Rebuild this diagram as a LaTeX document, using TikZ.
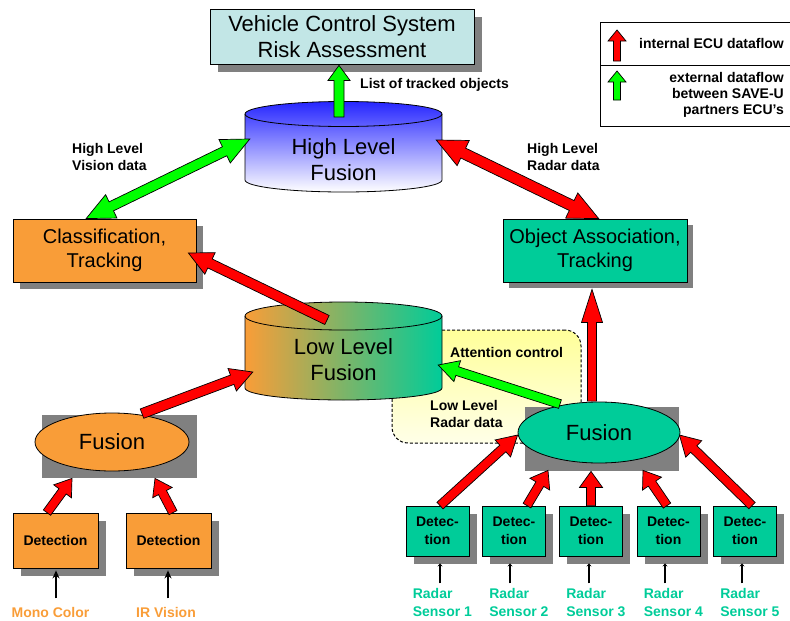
\documentclass[tikz,border=0pt]{standalone}
\usepackage{fontspec}
\setmainfont{Liberation Sans}
\usetikzlibrary{calc,shapes.geometric,arrows.meta}

\definecolor{vorange}{HTML}{F99D38}
\definecolor{vteal}{HTML}{00CC99}
\definecolor{vcyan}{HTML}{C2E6E6}
\definecolor{vred}{HTML}{FF0000}
\definecolor{vgreen}{HTML}{00FF00}
\definecolor{vgrey}{RGB}{128,128,128}
\definecolor{vyellowA}{HTML}{FFFF99}
\definecolor{vyellowB}{HTML}{FFFFE8}
\definecolor{vblue}{HTML}{2626FF}

\pgfdeclarelayer{back}
\pgfdeclarelayer{shadelayer}
\pgfsetlayers{back,shadelayer,main}

% broad block arrow: style, from, to, body half-width, head half-width, head length
\newcommand\fatarrow[6]{%
  \path (#2) coordinate (fas) (#3) coordinate (fae);
  \path ($(fae)!#6pt!(fas)$) coordinate (fah);
  \filldraw[#1] ($(fas)!#4pt!90:(fae)$) -- ($(fah)!#4pt!90:(fae)$)
    -- ($(fah)!#5pt!90:(fae)$) -- (fae) -- ($(fah)!#5pt!-90:(fae)$)
    -- ($(fah)!#4pt!-90:(fae)$) -- ($(fas)!#4pt!-90:(fae)$) -- cycle;
}
% same with a head at both ends
\newcommand\fatdarrow[6]{%
  \path (#2) coordinate (fas) (#3) coordinate (fae);
  \path ($(fae)!#6pt!(fas)$) coordinate (fah) ($(fas)!#6pt!(fae)$) coordinate (fag);
  \filldraw[#1] (fas) -- ($(fag)!#5pt!90:(fae)$) -- ($(fag)!#4pt!90:(fae)$)
    -- ($(fah)!#4pt!90:(fae)$) -- ($(fah)!#5pt!90:(fae)$) -- (fae)
    -- ($(fah)!#5pt!-90:(fae)$) -- ($(fah)!#4pt!-90:(fae)$)
    -- ($(fag)!#4pt!-90:(fae)$) -- ($(fag)!#5pt!-90:(fae)$) -- cycle;
}

\tikzset{
  box/.style={draw=black, line width=0.8pt, shape=rectangle, inner sep=0pt, align=center},
  shadebox/.style={shape=rectangle, fill=vgrey, draw=none, inner sep=0pt},
  bigtext/.style={font=\fontsize{22}{26}\selectfont},
  midtext/.style={font=\fontsize{20}{24}\selectfont},
  lbl/.style={font=\fontsize{14}{17}\selectfont\bfseries, inner sep=0pt},
  detbox/.style={box, fill=vteal, minimum width=63pt, minimum height=50pt,
    font=\fontsize{14}{18}\selectfont\bfseries},
  leftdet/.style={box, fill=vorange, minimum width=85pt, minimum height=55pt,
    font=\fontsize{14}{17}\selectfont\bfseries},
  fusion/.style={ellipse, draw=black, line width=0.8pt, inner sep=0pt, bigtext},
  redarrow/.style={fill=vred, draw=black, line width=0.7pt, line join=miter},
  greenarrow/.style={fill=vgreen, draw=black, line width=0.7pt, line join=miter},
  sensorlbl/.style={lbl, text=vteal, align=left, font=\fontsize{14}{18}\selectfont\bfseries},
  camlbl/.style={lbl, text=vorange},
  inlet/.style={line width=1.5pt, -{Stealth[length=8pt,width=7pt]}},
  radarlet/.style={line width=1.5pt, -{Stealth[length=3pt,width=5pt]}},
  cylline/.style={draw=black, line width=0.8pt},
}

\begin{document}
\begin{tikzpicture}[x=1pt, y=-1pt]
\useasboundingbox (0,0) rectangle (790,621);

% ---------- shaded region behind the low level fusion ----------
\begin{pgfonlayer}{back}
\node[draw=black, line width=1pt, dash pattern=on 3pt off 2pt, rounded corners=16pt,
      top color=vyellowA, bottom color=vyellowB,
      minimum width=189pt, minimum height=113pt, inner sep=0pt] (attn) at (486.5,386.5) {};
\end{pgfonlayer}

% ---------- grey block shadows, set before the boxes they lie under ----------
\node[shadebox, minimum width=264pt, minimum height=55pt] (vcsshade) at (350,44.5) {};
\node[shadebox, minimum width=183pt, minimum height=63pt] (clsshade) at (111.5,257.5) {};
\node[shadebox, minimum width=184pt, minimum height=63pt] (oashade) at (601,256.5) {};
\node[shadebox, minimum width=85pt, minimum height=55pt] (ld1shade) at (63.5,548.5) {};
\node[shadebox, minimum width=85pt, minimum height=55pt] (ld2shade) at (176.5,548.5) {};
\foreach \i/\x in {1/437.5, 2/514, 3/591, 4/668.5, 5/745}
  \node[shadebox, minimum width=63pt, minimum height=50pt] (rd\i shade) at (\x+7.5,538.5) {};

% ---------- top box ----------
\node[box, fill=vcyan, bigtext, minimum width=264pt, minimum height=55pt]
  (vcs) at (342,36.5) {Vehicle Control System\\Risk Assessment};

% ---------- legend ----------
\node[draw=black, line width=1pt, minimum width=192pt, minimum height=43pt, inner sep=0pt]
  (legtop) at (696,43.5) {};
\node[draw=black, line width=1pt, minimum width=192pt, minimum height=61pt, inner sep=0pt]
  (legbot) at (696,95.5) {};
\node[lbl, anchor=west] (legint) at (639,43) {internal ECU dataflow};
\node[lbl, anchor=east, align=right, font=\fontsize{14}{16}\selectfont\bfseries]
  (legext) at (784,95) {external dataflow\\between SAVE-U\\partners ECU's};
\coordinate (lr1) at (617,61);  \coordinate (lr2) at (617,30);
\coordinate (lg1) at (617,100); \coordinate (lg2) at (617,71);
\fatarrow{redarrow}{lr1}{lr2}{3.5}{9}{11}
\fatarrow{greenarrow}{lg1}{lg2}{3.5}{9}{11}

% ---------- high level fusion cylinder ----------
\shade[top color=vblue, bottom color=white]
  (245,114) -- (245,180) arc[start angle=180, end angle=360, x radius=98.5pt, y radius=12pt]
  -- (442,114) arc[start angle=0, end angle=180, x radius=98.5pt, y radius=12.5pt] -- cycle;
\draw[cylline]
  (245,114) -- (245,180) arc[start angle=180, end angle=360, x radius=98.5pt, y radius=12pt]
  -- (442,114) arc[start angle=0, end angle=180, x radius=98.5pt, y radius=12.5pt] -- cycle;
\draw[cylline] (245,114) arc[start angle=180, end angle=360, x radius=98.5pt, y radius=12.5pt];
\node[bigtext, align=center, minimum width=197pt, inner sep=0pt] (hlf) at (343.5,159.5)
  {High Level\\Fusion};
\coordinate (hlftop) at (339,117);

% ---------- low level fusion cylinder ----------
\shade[left color=vorange, right color=vteal]
  (245,316) -- (245,388) arc[start angle=180, end angle=360, x radius=98.5pt, y radius=12pt]
  -- (442,316) arc[start angle=0, end angle=180, x radius=98.5pt, y radius=14pt] -- cycle;
\draw[cylline]
  (245,316) -- (245,388) arc[start angle=180, end angle=360, x radius=98.5pt, y radius=12pt]
  -- (442,316) arc[start angle=0, end angle=180, x radius=98.5pt, y radius=14pt] -- cycle;
\draw[cylline] (245,316) arc[start angle=180, end angle=360, x radius=98.5pt, y radius=14pt];
\node[bigtext, align=center, minimum width=197pt, inner sep=0pt] (llf) at (343.5,360)
  {Low Level\\Fusion};
\coordinate (llftop) at (327,320);

% ---------- tracking boxes ----------
\node[box, fill=vorange, midtext, minimum width=183pt, minimum height=63pt]
  (cls) at (104.5,250.5) {Classification,\\Tracking};
\node[box, fill=vteal, midtext, minimum width=184pt, minimum height=63pt]
  (oa) at (595,250.5) {Object Association,\\Tracking};

% ---------- fusion ellipses with their block shadows ----------
\node[fusion, fill=vorange, minimum width=154pt, minimum height=58pt] (lfus) at (112,442) {Fusion};
\node[fusion, fill=vteal, minimum width=162pt, minimum height=61pt] (rfus) at (599,432.5) {Fusion};
\begin{pgfonlayer}{shadelayer}
\fill[vgrey] ($(lfus.west |- lfus.north)+(7,2)$) rectangle ($(lfus.east |- lfus.south)+(8,7)$);
\fill[vgrey] ($(rfus.west |- rfus.north)+(7,5)$) rectangle ($(rfus.east |- rfus.south)+(-1,8)$);
\end{pgfonlayer}

% ---------- camera detections ----------
\node[leftdet] (ld1) at (55.5,540.5) {Detection};
\node[leftdet] (ld2) at (168.5,540.5) {Detection};
\node[camlbl] (mono) at (50.5,612) {Mono Color};
\node[camlbl] (irv) at (166,612) {IR Vision};
\draw[inlet] ($(ld1.south)+(0.5,30)$) -- ($(ld1.south)+(0.5,2)$);
\draw[inlet] ($(ld2.south)+(-0.5,30)$) -- ($(ld2.south)+(-0.5,2)$);

% ---------- radar detections ----------
\foreach \i/\x/\dx in {1/437.5/2.5, 2/514/-4, 3/591/-2, 4/668.5/-3.5, 5/745/-3} {
  \node[detbox] (rd\i) at (\x,531) {Detec-\\tion};
  \node[sensorlbl, anchor=west] (rs\i) at ($(rd\i.west)+(7,71)$) {Radar\\Sensor \i};
  \draw[radarlet] ($(rd\i.south)+(\dx,27)$) -- ($(rd\i.south)+(\dx,7)$);
}

% ---------- labels ----------
\node[lbl, anchor=west] (lto) at (360,85) {List of tracked objects};
\node[lbl, anchor=west, align=left] (hlv) at (72,156.5) {High Level\\Vision data};
\node[lbl, anchor=west, align=left] (hlr) at (527,156.5) {High Level\\Radar data};
\node[lbl, anchor=west] (attc) at (450,352) {Attention control};
\node[lbl, anchor=west, align=left] (llr) at (430,414) {Low Level\\Radar data};

% ---------- data flows ----------
\fatarrow{greenarrow}{hlftop}{$(vcs.south)+(-3,1)$}{5}{11}{15}
\fatdarrow{greenarrow}{$(cls.north west)!0.4!(cls.north east)$}{$(hlf.west)+(5,-20.5)$}{5}{13}{28}
\fatdarrow{redarrow}{$(hlf.east)+(-6,-19.5)$}{$(oa.north west)!0.52!(oa.north east)$}{5.5}{14}{30}
\fatarrow{redarrow}{llftop}{$(cls.east)+(-8,2.5)$}{5}{12}{24}
\fatarrow{redarrow}{$(lfus.north)+(30,1)$}{$(llf.west)+(8,12)$}{5}{12}{22}
\fatarrow{greenarrow}{$(rfus.north)+(-39,2.5)$}{$(llf.east)+(-4,5)$}{4.5}{11}{20}
\fatarrow{redarrow}{$(rfus.north)+(-7,-0.5)$}{$(oa.south)+(-3,7)$}{4.5}{10.5}{33}

\fatarrow{redarrow}{$(ld1.north)+(-8.5,0)$}{$(lfus.south)+(-40,7)$}{4.5}{11}{16}
\fatarrow{redarrow}{$(ld2.north)+(4.5,0)$}{$(lfus.south)+(43,7)$}{4.5}{11}{16}

\fatarrow{redarrow}{$(rd1.north)+(2.5,0)$}{$(rfus.west)+(0,2.5)$}{4.5}{11.5}{20}
\fatarrow{redarrow}{$(rd2.north)+(13,0)$}{$(rfus.south)+(-51,7)$}{4.5}{11.5}{16}
\fatarrow{redarrow}{$(rd3.north)+(0,0)$}{$(rfus.south)+(-8,8)$}{4.5}{11.5}{16}
\fatarrow{redarrow}{$(rd4.north)+(-1.5,0)$}{$(rfus.south)+(44,7)$}{4.5}{11.5}{16}
\fatarrow{redarrow}{$(rd5.north)+(7,0)$}{$(rfus.east)+(-1,2.5)$}{4.5}{11.5}{20}

\end{tikzpicture}
\end{document}
